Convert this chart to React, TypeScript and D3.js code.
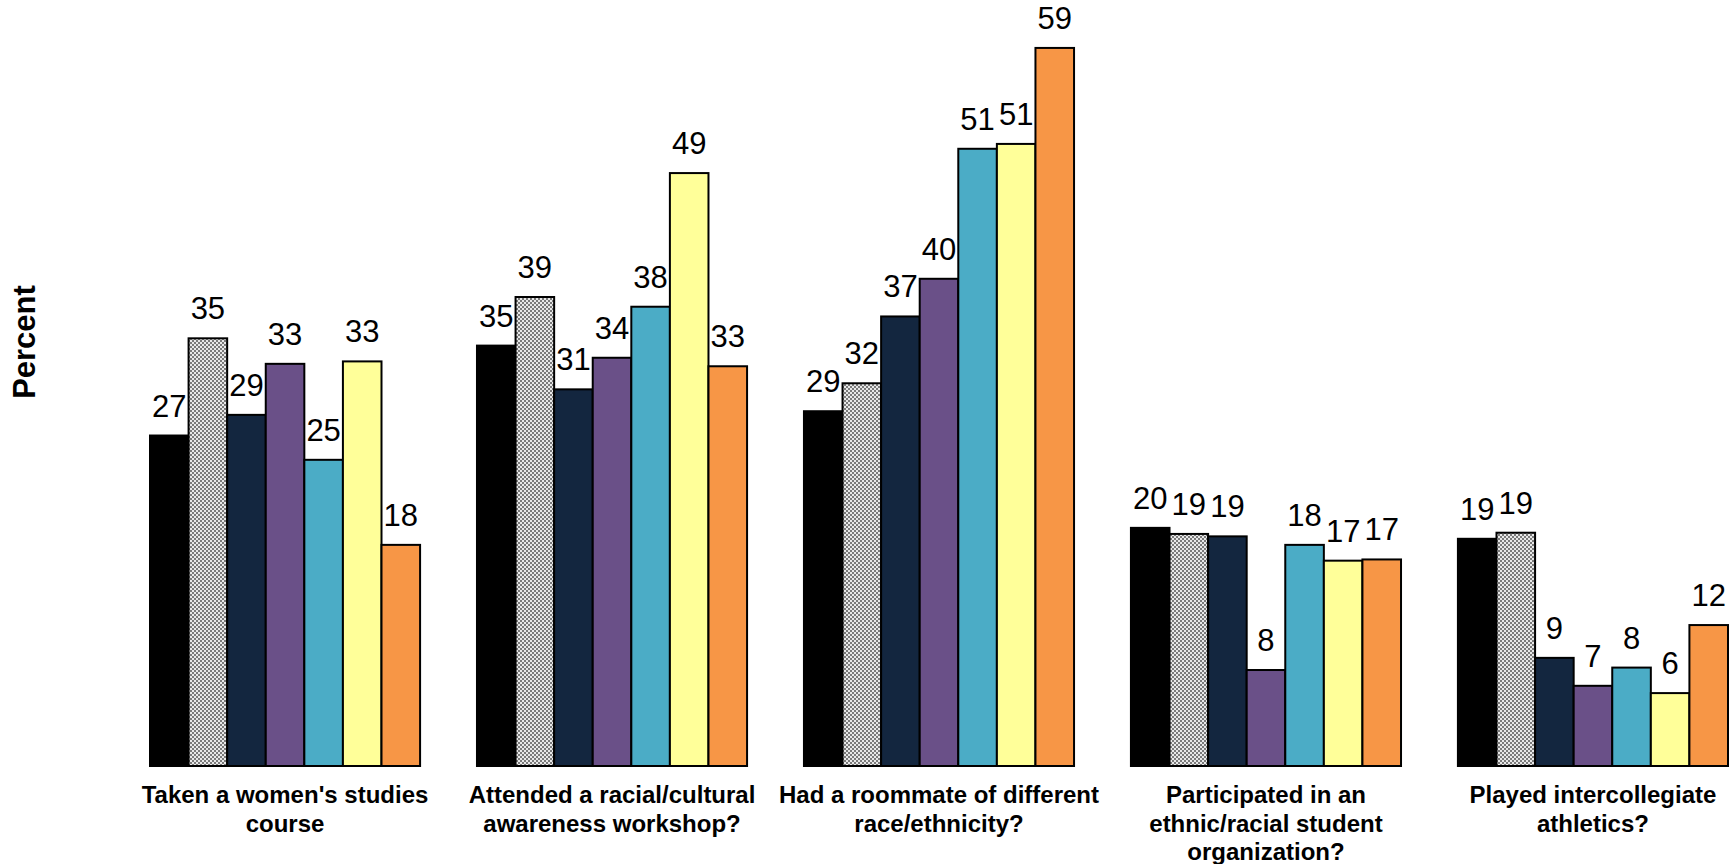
import React from "react";
import * as d3 from "d3";

const categories: string[][] = [
  ["Taken a women's studies", "course"],
  ["Attended a racial/cultural", "awareness workshop?"],
  ["Had a roommate of different", "race/ethnicity?"],
  ["Participated in an", "ethnic/racial student", "organization?"],
  ["Played intercollegiate", "athletics?"],
];

const seriesNames = ["S1", "S2", "S3", "S4", "S5", "S6", "S7"];

const s1 = [27.2, 34.6, 29.2, 19.6, 18.7];
const s2 = [35.2, 38.6, 31.5, 19.1, 19.2];
const s3 = [28.9, 31.0, 37.0, 18.9, 8.9];
const s4 = [33.1, 33.6, 40.1, 7.9, 6.6];
const s5 = [25.2, 37.8, 50.8, 18.2, 8.1];
const s6 = [33.3, 48.8, 51.2, 16.9, 6.0];
const s7 = [18.2, 32.9, 59.1, 17.0, 11.6];

const seriesValues = [s1, s2, s3, s4, s5, s6, s7];
const fills = ["#000000", "url(#chk)", "#13263f", "#6a5088", "#4bacc6", "#ffff99", "#f79646"];

const W = 1731;
const H = 864;
const baseY = 766;

export default function App() {
  const x0 = d3
    .scaleBand<number>()
    .domain(d3.range(categories.length))
    .range([150, 1728])
    .paddingInner(0.174)
    .paddingOuter(0);
  const x1 = d3
    .scaleBand<number>()
    .domain(d3.range(seriesNames.length))
    .range([0, x0.bandwidth()])
    .padding(0);
  const y = d3.scaleLinear().domain([0, 60]).range([baseY, baseY - 729]);

  return (
    <svg
      width={W}
      height={H}
      style={{ position: "absolute", left: 0, top: 0, background: "#fff" }}
      fontFamily="'Liberation Sans', Arial, sans-serif"
    >
      <defs>
        <pattern id="chk" width={4} height={4} patternUnits="userSpaceOnUse">
          <rect width={4} height={4} fill="#e8e8e8" />
          <rect width={2} height={2} fill="#7a7a7a" />
          <rect x={2} y={2} width={2} height={2} fill="#7a7a7a" />
        </pattern>
      </defs>
      <rect width={W} height={H} fill="#fff" />
      <text
        transform={`translate(35,342) rotate(-90)`}
        textAnchor="middle"
        fontWeight="bold"
        fontSize={31}
      >
        Percent
      </text>
      {categories.map((lines, ci) => {
        const gx = x0(ci)!;
        return (
          <g key={ci}>
            {seriesValues.map((vals, si) => {
              const v = vals[ci];
              const bx = gx + x1(si)!;
              const top = y(v);
              return (
                <g key={si}>
                  <rect
                    x={bx}
                    y={top}
                    width={x1.bandwidth()}
                    height={baseY - top}
                    fill={fills[si]}
                    stroke="#000"
                    strokeWidth={2}
                  />
                  <text
                    x={bx + x1.bandwidth() / 2}
                    y={top - 19}
                    textAnchor="middle"
                    fontSize={31}
                    fill="#000"
                  >
                    {Math.round(v)}
                  </text>
                </g>
              );
            })}
            {lines.map((ln, li) => (
              <text
                key={li}
                x={gx + x0.bandwidth() / 2}
                y={803 + li * 28.7}
                textAnchor="middle"
                fontWeight="bold"
                fontSize={24}
              >
                {ln}
              </text>
            ))}
          </g>
        );
      })}
    </svg>
  );
}
